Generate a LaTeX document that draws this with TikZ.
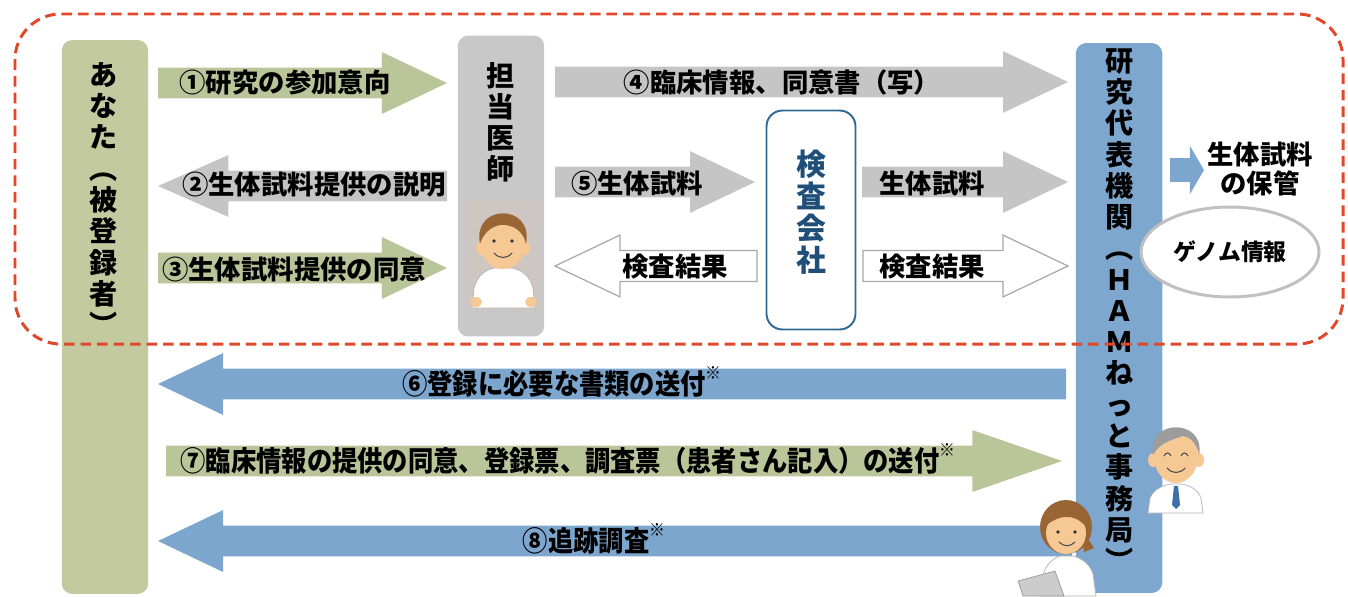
\documentclass[tikz,border=0pt]{standalone}
\usepackage{fontspec}
\setmainfont{Noto Sans CJK JP}
\newfontfamily\narrowjp{Noto Sans CJK JP}[FakeStretch=0.9]
\usepackage{tikz}
\usetikzlibrary{calc,shapes.geometric}
\definecolor{youfill}{HTML}{C3CA9F}
\definecolor{grnarrow}{HTML}{BAC59A}
\definecolor{docfill}{HTML}{C8C8C8}
\definecolor{grayarrow}{HTML}{C5C5C5}
\definecolor{hqfill}{HTML}{7DA7CE}
\definecolor{bluearrow}{HTML}{7CA6CD}
\definecolor{labblue}{HTML}{2F6A96}
\definecolor{labtext}{HTML}{1F4E79}
\definecolor{dashred}{HTML}{E1472B}
\definecolor{ovalgray}{HTML}{C0C0C0}
\definecolor{outline}{HTML}{A8A8A8}
\definecolor{skin}{HTML}{F6C894}
\definecolor{hairbrown}{HTML}{9A6535}
\definecolor{hairgray}{HTML}{9C9C9C}
\definecolor{tieblue}{HTML}{3F6FA8}
\definecolor{docbg}{HTML}{CEC6C2}
\newcommand\kome{\smash{\raisebox{0.55em}{\fontsize{10}{10}\selectfont ※}}}
\tikzset{
  headlen/.store in=\fatHL, shafthw/.store in=\fatSH, headhw/.store in=\fatHH,
  headlen=37pt, shafthw=8.8pt, headhw=17.6pt,
  fat/.style={to path={let \p1=(\tikztostart), \p2=(\tikztotarget),
      \p3=($(\tikztotarget)!\fatHL!(\tikztostart)$) in
      (\x1,\y1+\fatSH) -- (\x3,\y1+\fatSH) -- (\x3,\y1+\fatHH) -- (\x2,\y2)
      -- (\x3,\y1-\fatHH) -- (\x3,\y1-\fatSH) -- (\x1,\y1-\fatSH) -- cycle}},
  hollow/.style={fat, fill=white, draw=outline, line width=0.7pt},
  col/.style={inner sep=0pt, minimum width=1.73cm, rounded corners=6pt},
  labbox/.style={draw=labblue, line width=1.1pt, fill=white, rounded corners=9pt,
    minimum width=1.78cm, minimum height=4.38cm, inner sep=0pt},
  vtxt/.style={align=center, inner sep=0pt, font=\fontsize{16}{17.6}\selectfont\bfseries},
  lab/.style={inner sep=0pt, font=\fontsize{15}{17}\selectfont\bfseries},
  labn/.style={inner sep=0pt, font=\narrowjp\fontsize{16}{18}\selectfont\bfseries},
  oval/.style={ellipse, draw=ovalgray, line width=1.7pt, fill=white,
    minimum width=3.56cm, minimum height=1.8cm, inner sep=0pt,
    font=\fontsize{13}{15}\selectfont\bfseries},
  dashfr/.style={draw=dashred, line width=1.7pt, dash pattern=on 6pt off 3.4pt,
    rounded corners=26pt},
  smile/.style={draw=black!70, line width=0.6pt, line cap=round},
  coat/.style={fill=white, draw=black!30, line width=0.4pt},
}

\begin{document}
\begin{tikzpicture}[x=0.02cm, y=-0.02cm]
  \useasboundingbox (0,0) rectangle (1348,596);

  % the three columns and the lab
  \node[col, fill=youfill, minimum height=11.08cm] (you) at (105,317) {};
  \node[col, fill=docfill, minimum height=6.02cm] (doc) at (501,186) {};
  \node[col, fill=hqfill, minimum height=11cm] (hq) at (1119,318) {};
  \node[labbox] (lab) at (811,220) {};

  \node[vtxt, font=\fontsize{16}{17.8}\selectfont\bfseries] (youtxt) at (104,199)
    {あ\\な\\た\\︵\\被\\登\\録\\者\\︶};
  \node[vtxt] (doctxt) at (501,122) {担\\当\\医\\師};
  \node[vtxt, text=labtext, font=\fontsize{17}{18.3}\selectfont\bfseries] (labtxt)
    at (811,212) {検\\査\\会\\社};
  \node[vtxt, font=\fontsize{16}{17.8}\selectfont\bfseries] (hqtxt) at (1120,310)
    {研\\究\\代\\表\\機\\関\\︵\\Ｈ\\Ａ\\Ｍ\\ね\\っ\\と\\事\\務\\局\\︶};

  % arrow end points
  \coordinate (a1s) at (158,83);   \coordinate (a1e) at (447,83);
  \coordinate (a2s) at (447,186);  \coordinate (a2e) at (158,186);
  \coordinate (a3s) at (158,268);  \coordinate (a3e) at (447,268);
  \coordinate (a4s) at (555,82);   \coordinate (a4e) at (1068,82);
  \coordinate (a5s) at (555,182);  \coordinate (a5e) at (755,182);
  \coordinate (r1s) at (757,266);  \coordinate (r1e) at (555,266);
  \coordinate (a6s) at (862,182);  \coordinate (a6e) at (1068,182);
  \coordinate (r2s) at (863,266);  \coordinate (r2e) at (1068,266);
  \coordinate (b6s) at (1066,384); \coordinate (b6e) at (158,384);
  \coordinate (g7s) at (166,461);  \coordinate (g7e) at (1062,461);
  \coordinate (b8s) at (1072,541); \coordinate (b8e) at (158,541);
  \coordinate (ks) at (1170,170);  \coordinate (ke) at (1204,170);

  \path[fat, fill=grnarrow] (a1s) to (a1e);
  \path[fat, fill=grayarrow, headlen=40pt] (a2s) to (a2e);
  \path[fat, fill=grnarrow] (a3s) to (a3e);
  \path[fat, fill=grayarrow] (a4s) to (a4e);
  \path[fat, fill=grayarrow] (a5s) to (a5e);
  \path[hollow] (r1s) to (r1e);
  \path[fat, fill=grayarrow] (a6s) to (a6e);
  \path[hollow] (r2s) to (r2e);
  \path[fat, fill=bluearrow] (b6s) to (b6e);
  \path[fat, fill=grnarrow, headlen=51pt] (g7s) to (g7e);
  \path[fat, fill=bluearrow] (b8s) to (b8e);
  \path[fat, fill=bluearrow, headlen=8pt, shafthw=6.8pt, headhw=13.7pt] (ks) to (ke);

  % labels
  \node[lab] (t1) at (285,83) {①研究の参加意向};
  \node[lab] (t2) at (314,185) {②生体試料提供の説明};
  \node[lab] (t3) at (294,269) {③生体試料提供の同意};
  \node[lab] (t4) at (782,82) {④臨床情報、同意書（写）};
  \node[lab] (t5) at (637,183) {⑤生体試料};
  \node[lab] (t6) at (675,267) {検査結果};
  \node[lab] (t7) at (932,183) {生体試料};
  \node[lab] (t8) at (932,267) {検査結果};
  \node[lab, align=center, font=\fontsize{15}{16}\selectfont\bfseries] (keeptxt)
    at (1260,169) {生体試料\\の保管};
  \node[labn] (t9) at (562,384) {⑥登録に必要な書類の送付\kome};
  \node[labn] (t10) at (568,461) {⑦臨床情報の提供の同意、登録票、調査票（患者さん記入）の送付\kome};
  \node[labn] (t11) at (594,541) {⑧追跡調査\kome};

  \node[oval] (genome) at (1230,252) {ゲノム情報};

  % dashed frame round the upper part
  \draw[dashfr] (15,14) rectangle (1343,344);

  % doctor portrait
  \fill[docbg] (466,198) rectangle (539,310);
  \path[coat] (472,308) -- (474,288) .. controls (478,274) and (486,270) .. (494,268)
    -- (512,268) .. controls (522,270) and (530,276) .. (533,288) -- (535,308) -- cycle;
  \fill[skin] (476,302) ellipse [x radius=6, y radius=5];
  \fill[skin] (531,302) ellipse [x radius=6, y radius=5];
  \fill[skin] (481,248) ellipse [x radius=5, y radius=7];
  \fill[skin] (525,248) ellipse [x radius=5, y radius=7];
  \fill[skin] (503,245) ellipse [x radius=22, y radius=24];
  \fill[hairbrown] (480,244) .. controls (472,203) and (534,203) .. (526,244)
    .. controls (523,230) and (512,224) .. (500,225) .. controls (490,227) and (483,234) .. (480,244) -- cycle;
  \fill[black!80] (494,241) circle [radius=1.8];
  \fill[black!80] (512,241) circle [radius=1.8];
  \draw[smile] (494,253) .. controls (499,259) and (507,259) .. (512,253);

  % staff at the office
  \path[coat] (1148,513) -- (1150,498) .. controls (1154,489) and (1162,486) .. (1170,484)
    -- (1182,484) .. controls (1190,486) and (1198,489) .. (1201,498) -- (1203,513) -- cycle;
  \fill[tieblue] (1174,486) -- (1178,486) -- (1180,505) -- (1176,509) -- (1172,505) -- cycle;
  \fill[skin] (1153,460) ellipse [x radius=5, y radius=7];
  \fill[skin] (1199,460) ellipse [x radius=5, y radius=7];
  \fill[skin] (1176,457) ellipse [x radius=22, y radius=26];
  \fill[hairgray] (1153,455) .. controls (1146,418) and (1206,418) .. (1199,455)
    .. controls (1196,442) and (1190,437) .. (1183,436) .. controls (1172,440) and (1160,442) .. (1153,455) -- cycle;
  \draw[smile] (1164,456) .. controls (1166,452) and (1169,452) .. (1171,456);
  \draw[smile] (1181,456) .. controls (1183,452) and (1186,452) .. (1188,456);
  \draw[smile] (1167,468) .. controls (1172,474) and (1180,474) .. (1185,468);

  \fill[hairbrown] (1066,527) ellipse [x radius=26, y radius=27];
  \fill[hairbrown] (1082,530) -- (1094,548) -- (1084,552) -- cycle;
  \path[coat] (1040,596) -- (1044,572) .. controls (1048,562) and (1054,558) .. (1060,556)
    -- (1074,556) .. controls (1082,559) and (1090,564) .. (1093,574) -- (1096,596) -- cycle;
  \fill[skin] (1066,533) ellipse [x radius=20, y radius=21];
  \fill[hairbrown] (1044,532) .. controls (1040,500) and (1092,498) .. (1088,530)
    .. controls (1080,516) and (1064,512) .. (1048,524) -- cycle;
  \fill[black!80] (1058,532) circle [radius=1.8];
  \fill[black!80] (1075,532) circle [radius=1.8];
  \draw[smile] (1059,542) .. controls (1064,547) and (1070,547) .. (1075,542);
  \filldraw[fill=black!20, draw=black!40, line width=0.4pt]
    (1018,581) -- (1055,571) -- (1064,596) -- (1023,596) -- cycle;
\end{tikzpicture}
\end{document}
